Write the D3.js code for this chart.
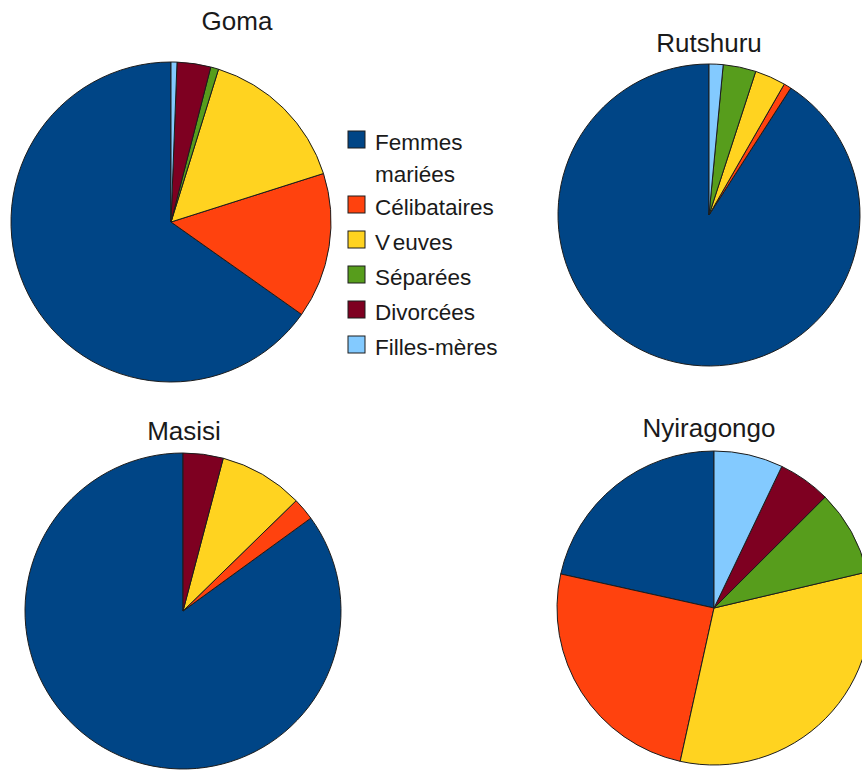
<!DOCTYPE html>
<html>
<head>
<meta charset="utf-8">
<script src="https://cdn.jsdelivr.net/npm/d3@7"></script>
<style>
  html, body { margin: 0; padding: 0; background: #ffffff; }
  svg { display: block; }
  text { font-family: "Liberation Sans", Arial, sans-serif; fill: #1a1a1a; }
</style>
</head>
<body>
<svg id="chart" width="862" height="770"></svg>
<script>
// Marital status of women by territory (shares, %)
const categories = ["Femmes mariées", "Célibataires", "Veuves", "Séparées", "Divorcées", "Filles-mères"];
const regions = ["Goma", "Rutshuru", "Masisi", "Nyiragongo"];
const goma       = [65.2, 14.7, 15.3, 0.8, 3.4, 0.6];
const rutshuru   = [90.8, 0.8, 3.3, 3.5, 0.0, 1.5];
const masisi     = [85.0, 2.3, 8.6, 0.0, 4.1, 0.0];
const nyiragongo = [21.5, 25.0, 32.1, 8.8, 5.4, 7.1];
const seriesByRegion = { Goma: goma, Rutshuru: rutshuru, Masisi: masisi, Nyiragongo: nyiragongo };

const palette = ["#004586", "#ff420e", "#ffd320", "#579d1c", "#7e0021", "#83caff"];
const color = d3.scaleOrdinal().domain(categories).range(palette);

// Placement of each pie and its title
const layout = {
  Goma:       { cx: 171, cy: 222, r: 160, tx: 237, ty: 30 },
  Rutshuru:   { cx: 709, cy: 215, r: 151, tx: 709, ty: 52 },
  Masisi:     { cx: 183, cy: 611, r: 158, tx: 184, ty: 440 },
  Nyiragongo: { cx: 714, cy: 608, r: 157, tx: 709, ty: 437 }
};

const svg = d3.select("#chart");

// Slices run counter-clockwise from twelve o'clock in category order
const pie = d3.pie().sort(null).value(d => d.value).startAngle(0).endAngle(-2 * Math.PI);

regions.forEach(name => {
  const L = layout[name];
  const values = seriesByRegion[name];
  const rows = categories.map((c, i) => ({ category: c, value: values[i] }));
  const arc = d3.arc().innerRadius(0).outerRadius(L.r);

  const g = svg.append("g").attr("transform", `translate(${L.cx},${L.cy})`);
  g.selectAll("path")
    .data(pie(rows).filter(d => d.data.value > 0))
    .join("path")
    .attr("d", arc)
    .attr("fill", d => color(d.data.category))
    .attr("stroke", "#1c1c1c")
    .attr("stroke-width", 1)
    .attr("stroke-linejoin", "round");

  svg.append("text")
    .attr("x", L.tx)
    .attr("y", L.ty)
    .attr("text-anchor", "middle")
    .attr("font-size", 26)
    .text(name);
});

// Legend
const legend = svg.append("g").attr("transform", "translate(348,131)");
const rowY = [0, 65, 100, 135, 170, 205];
categories.forEach((c, i) => {
  const row = legend.append("g").attr("transform", `translate(0,${rowY[i]})`);
  row.append("rect")
    .attr("width", 17).attr("height", 17)
    .attr("fill", color(c))
    .attr("stroke", "#1c1c1c").attr("stroke-width", 1);
  const t = row.append("text")
    .attr("x", 27).attr("y", 19)
    .attr("font-size", 22.5);
  if (c === "Femmes mariées") {
    t.append("tspan").attr("x", 27).text("Femmes");
    t.append("tspan").attr("x", 27).attr("dy", 32).text("mariées");
  } else if (c === "Veuves") {
    t.append("tspan").text("V");
    t.append("tspan").attr("dx", 4).text("euves");
  } else {
    t.text(c);
  }
});
</script>
</body>
</html>
